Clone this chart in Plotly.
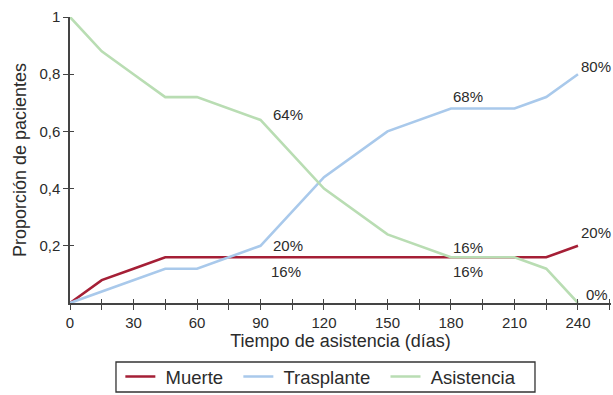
import plotly.graph_objects as go

dias = [0, 15, 30, 45, 60, 90, 120, 150, 180, 210, 225, 240]
muerte = [0, 0.08, 0.12, 0.16, 0.16, 0.16, 0.16, 0.16, 0.16, 0.16, 0.16, 0.20]
trasplante = [0, 0.04, 0.08, 0.12, 0.12, 0.20, 0.44, 0.60, 0.68, 0.68, 0.72, 0.80]
asistencia = [1.0, 0.88, 0.80, 0.72, 0.72, 0.64, 0.40, 0.24, 0.16, 0.16, 0.12, 0.0]

x_ticks = [0, 30, 60, 90, 120, 150, 180, 210, 240]
y_ticks = [0.2, 0.4, 0.6, 0.8, 1.0]
y_labels = ["0,2", "0,4", "0,6", "0,8", "1"]

colors = {"Muerte": "#a51f36", "Trasplante": "#a9c9eb", "Asistencia": "#b9ddb3"}
font_fam = "Liberation Sans, Arial, sans-serif"
txt_col = "#2b2b2b"
ax_col = "#444444"
lead = "\u00a0"
pad = "\u00a0\u00a0"

fig = go.Figure()
for name, vals in [("Muerte", muerte), ("Trasplante", trasplante), ("Asistencia", asistencia)]:
    fig.add_trace(go.Scatter(x=dias, y=vals, mode="lines", name=lead + name + pad,
                             line=dict(color=colors[name], width=2.6)))

# annotations: (x index, series, label, xanchor, xshift, yshift)
labels = [
    (5, asistencia, "64%", "left", 11, 5),
    (5, trasplante, "20%", "left", 11, 0),
    (5, muerte, "16%", "left", 9, -14),
    (8, trasplante, "68%", "center", 17, 12),
    (8, muerte, "16%", "center", 17, 10),
    (8, asistencia, "16%", "center", 17, -14),
    (11, trasplante, "80%", "left", 1, 8),
    (11, muerte, "20%", "left", 1, 13),
    (11, asistencia, "0%", "left", 6, 9),
]
for i, series, text, xa, xs, ys in labels:
    fig.add_annotation(x=dias[i], y=series[i], text=text, showarrow=False,
                       xanchor=xa, yanchor="middle", xshift=xs, yshift=ys,
                       font=dict(size=15, color=txt_col, family=font_fam))

x_range = [0, 255.6]
y_range = [0, 1.0]

# legend frame (paper coordinates)
fig.add_shape(type="rect", xref="paper", yref="paper",
              x0=0.085, x1=0.8595, y0=-0.3112, y1=-0.2063,
              line=dict(color="#333333", width=1.3), fillcolor="rgba(0,0,0,0)")

fig.update_layout(
    width=613, height=395,
    margin=dict(l=70, r=2, t=17, b=92, autoexpand=False),
    plot_bgcolor="white", paper_bgcolor="white",
    font=dict(family=font_fam, color=txt_col, size=15),
    showlegend=True,
    legend=dict(orientation="h", x=0.472, xanchor="center", y=-0.2587, yanchor="middle",
                borderwidth=0, bgcolor="rgba(0,0,0,0)", font=dict(size=18.5),
                tracegroupgap=0),
    xaxis=dict(range=x_range, tickvals=x_ticks, ticks="outside", ticklen=5,
               tickcolor=ax_col, showline=True, linecolor=ax_col, linewidth=1.5,
               showgrid=False, zeroline=False, tickfont=dict(size=15), automargin=False,
               minor=dict(dtick=15, tick0=0, ticks="outside", ticklen=5, tickcolor=ax_col),
               title=dict(text="Tiempo de asistencia (días)", font=dict(size=18), standoff=4)),
    yaxis=dict(range=y_range, tickvals=y_ticks, ticktext=y_labels, ticks="outside",
               ticklen=5, tickcolor=ax_col, showline=True, linecolor=ax_col,
               linewidth=1.5, showgrid=False, zeroline=False, tickfont=dict(size=15),
               automargin=False,
               title=dict(text="Proporción de pacientes", font=dict(size=18), standoff=8)),
    # inner halves of the crossing tick marks
    xaxis2=dict(overlaying="x", anchor="y", side="bottom", range=x_range,
                tickvals=x_ticks, ticks="inside", ticklen=4, tickcolor=ax_col,
                showticklabels=False, showgrid=False, zeroline=False, showline=False,
                automargin=False,
                minor=dict(dtick=15, tick0=0, ticks="inside", ticklen=4, tickcolor=ax_col)),
    yaxis2=dict(overlaying="y", anchor="x", side="left", range=y_range,
                tickvals=y_ticks, ticks="inside", ticklen=4, tickcolor=ax_col,
                showticklabels=False, showgrid=False, zeroline=False, showline=False,
                automargin=False),
)
fig.add_trace(go.Scatter(x=[None], y=[None], xaxis="x2", yaxis="y2",
                         showlegend=False, hoverinfo="skip"))

fig.write_html("out.html", config={"displayModeBar": False},
               post_script="document.body.style.margin='0';document.body.style.overflow='hidden';")
